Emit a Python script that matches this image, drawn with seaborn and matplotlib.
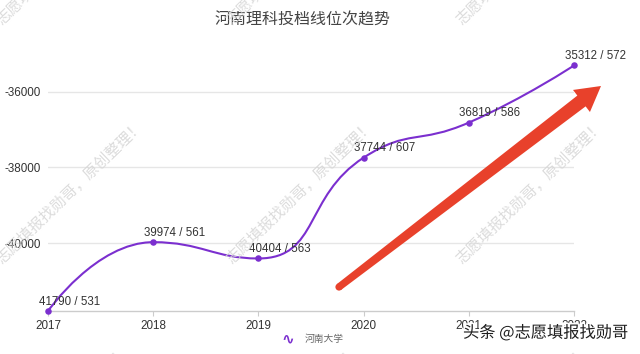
import numpy as np
import pandas as pd
import matplotlib
matplotlib.use("Agg")
import matplotlib.pyplot as plt
import seaborn as sns
from matplotlib.path import Path
from matplotlib.patches import PathPatch, Polygon, Circle
import matplotlib.patheffects as pe

# ---------------- data ----------------
years = [2017, 2018, 2019, 2020, 2021, 2022]
ranks = [41790, 39974, 40404, 37744, 36819, 35312]
scores = [531, 561, 563, 607, 586, 572]
yticks = [-40000, -38000, -36000]
title = "河南理科投档线位次趋势"
series_name = "河南大学"
watermark = "志愿填报找勋哥，原创整理！"
credit = "头条 @志愿填报找勋哥"

df = pd.DataFrame({
    "year": years,
    "value": [-r for r in ranks],
    "label": [f"{r} / {s}" for r, s in zip(ranks, scores)],
})

# ---------------- style ----------------
sns.set_theme(style="white")
plt.rcParams["font.family"] = ["Liberation Sans", "Noto Sans CJK SC", "DejaVu Sans"]
PURPLE = "#7b2fcf"
TEXT = "#333333"

W, H = 640, 354
fig = plt.figure(figsize=(6.4, 3.54), dpi=100)
ymin, ymax = -41790, -34700
px_per_unit = 0.0379
left_px, right_px, bottom_px = 48, 574, 311
height_px = (ymax - ymin) * px_per_unit
ax = fig.add_axes([left_px / W, (H - bottom_px) / H,
                   (right_px - left_px) / W, height_px / H])
ax.set_facecolor("none")
ax.set_xlim(years[0], years[-1])
ax.set_ylim(ymin, ymax)

# axes styling
for s in ["top", "right", "left"]:
    ax.spines[s].set_visible(False)
ax.spines["bottom"].set_color("#cccccc")
ax.spines["bottom"].set_linewidth(1)
ax.set_yticks(yticks)
ax.set_yticklabels([str(v) for v in yticks])
ax.set_xticks(years)
ax.set_xticklabels([str(y) for y in years])
ax.tick_params(axis="y", length=0, pad=5, labelsize=8.4, labelcolor=TEXT)
ax.tick_params(axis="x", length=3.5, width=0.8, color="#cccccc", direction="out",
               pad=3, labelsize=8.4, labelcolor=TEXT, bottom=True)
ax.yaxis.grid(True, color="#e6e6e6", linewidth=1)
ax.xaxis.grid(False)
ax.set_xlabel("")
ax.set_ylabel("")

# ---------------- smooth line (echarts-like bezier smoothing) ----------------
pts = ax.transData.transform(np.column_stack([df["year"], df["value"]]).astype(float))
smooth = 0.5
verts = [tuple(pts[0])]
codes = [Path.MOVETO]
cp0 = pts[0].copy()
n = len(pts)
for i in range(1, n):
    x, y = pts[i]
    px, py = pts[i - 1]
    if i == n - 1:
        cp1 = np.array([x, y])
        nxt_cp0 = None
    else:
        nx, ny = pts[i + 1]
        vx, vy = nx - px, ny - py
        lp = np.hypot(x - px, y - py)
        ln = np.hypot(nx - x, ny - y)
        r = ln / (ln + lp)
        c1x = x - vx * smooth * (1 - r)
        c1y = y - vy * smooth * (1 - r)
        n0x = x + vx * smooth * r
        n0y = y + vy * smooth * r
        n0x = min(n0x, max(nx, x)); n0x = max(n0x, min(nx, x))
        n0y = min(n0y, max(ny, y)); n0y = max(n0y, min(ny, y))
        vx, vy = n0x - x, n0y - y
        c1x = x - vx * lp / ln
        c1y = y - vy * lp / ln
        c1x = min(c1x, max(px, x)); c1x = max(c1x, min(px, x))
        c1y = min(c1y, max(py, y)); c1y = max(c1y, min(py, y))
        vx, vy = x - c1x, y - c1y
        n0x = x + vx * ln / lp
        n0y = y + vy * ln / lp
        cp1 = np.array([c1x, c1y])
        nxt_cp0 = np.array([n0x, n0y])
    verts += [tuple(cp0), tuple(cp1), (x, y)]
    codes += [Path.CURVE4] * 3
    if nxt_cp0 is not None:
        cp0 = nxt_cp0
data_verts = ax.transData.inverted().transform(np.array(verts))
patch = PathPatch(Path(data_verts, codes), transform=ax.transData, fill=False,
                  edgecolor=PURPLE, linewidth=1.5, clip_on=False, zorder=3)
ax.add_patch(patch)

sns.scatterplot(data=df, x="year", y="value", ax=ax, color=PURPLE, s=22,
                edgecolor=PURPLE, linewidth=0, zorder=4, clip_on=False, legend=False)
ax.set_xlabel("")
ax.set_ylabel("")

for _, row in df.iterrows():
    ax.annotate(row["label"], (row["year"], row["value"]), xytext=(-6.8, 6.6),
                textcoords="offset points", ha="left", va="center",
                fontsize=8.3, color=TEXT, zorder=5, annotation_clip=False)

# ---------------- title & legend ----------------
fig.text(303 / W, 1 - 20 / H, title, ha="center", va="center", fontsize=11.5,
         color="#444444", family=["Noto Sans CJK SC", "DejaVu Sans"])
fig.text(288 / W, 1 - 339 / H, "∿", ha="center", va="center", fontsize=11,
         color=PURPLE, family=["DejaVu Sans"], fontweight="bold")
fig.text(305 / W, 1 - 339 / H, series_name, ha="left", va="center", fontsize=7,
         color="#666666", family=["Noto Sans CJK SC", "DejaVu Sans"])

# ---------------- red arrow (decoration) ----------------
tail = np.array([339.0, H - 287.0])
tip = np.array([601.0, H - 86.0])
u = (tip - tail) / np.hypot(*(tip - tail))
nrm = np.array([-u[1], u[0]])
base = tip - 24.6 * u
arrow_pts = [tail + 3.6 * nrm, base + 6.8 * nrm, base + 13.9 * nrm, tip,
             base - 13.9 * nrm, base - 6.8 * nrm, tail - 3.6 * nrm]
fig.patches.append(Polygon(arrow_pts, closed=True, transform=None,
                           facecolor="#e8412b", edgecolor="none", zorder=6))
fig.patches.append(Circle(tuple(tail), 3.6, transform=None,
                          facecolor="#e8412b", edgecolor="none", zorder=6))

# ---------------- watermarks ----------------
rows = [(-47, 0), (192, 0), (418, -15)]
for cy, dx in rows:
    for cx in [70, 300, 530, 760]:
        fig.text((cx + dx) / W, 1 - cy / H, watermark, rotation=44,
                 rotation_mode="anchor", ha="center", va="center", fontsize=11,
                 color="#d6d6d6", alpha=0.85, zorder=7,
                 family=["Noto Sans CJK SC", "DejaVu Sans"])

fig.text(463 / W, 1 - 333 / H, credit, ha="left", va="center", fontsize=11.7,
         color="#1e1e1e", zorder=8, family=["Noto Sans CJK SC", "DejaVu Sans"],
         path_effects=[pe.withStroke(linewidth=2.2, foreground="white")])

fig.savefig("out.png", dpi=100)
